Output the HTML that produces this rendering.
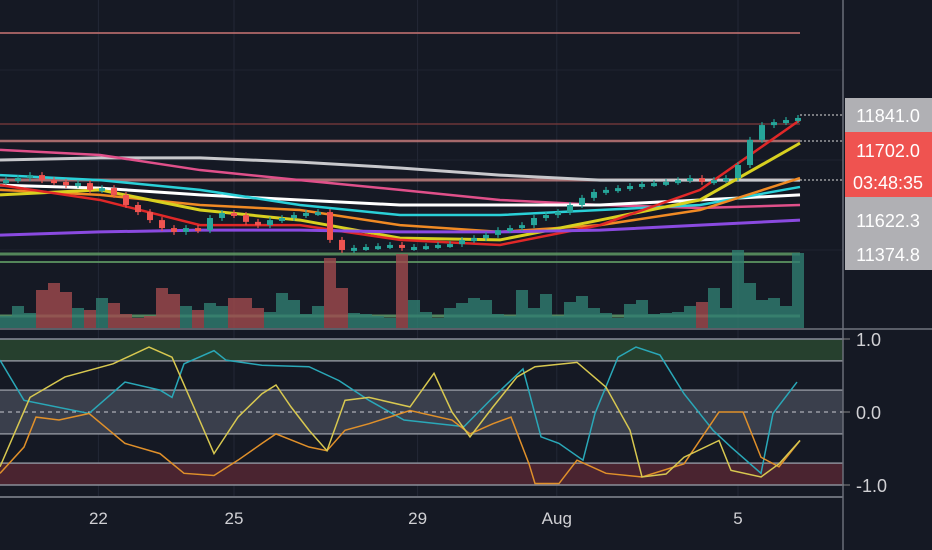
<!DOCTYPE html>
<html><head><meta charset="utf-8"><style>
body{margin:0;background:#151924;overflow:hidden}
svg{display:block;font-family:"Liberation Sans",sans-serif}
</style></head><body>
<svg id="chart" width="932" height="550">
<rect width="932" height="550" fill="#151924"/>
<g id="grid"></g>
<g id="levels"></g>
<g id="vol"></g>
<g id="mas"></g>
<g id="candles"></g>
<g id="osc"></g>
<g id="axes"></g>
</svg>
<script>
const closes=[11621,11628,11638,11621,11615,11604,11611,11588,11594,11571,11537,11513,11486,11459,11446,11459,11452,11493,11510,11503,11480,11469,11486,11493,11503,11510,11513,11419,11385,11392,11395,11398,11402,11392,11395,11398,11402,11405,11419,11425,11436,11452,11459,11469,11493,11503,11513,11537,11561,11581,11588,11594,11601,11608,11611,11615,11621,11628,11615,11621,11628,11672,11757,11807,11817,11824,11831];
const volumes=[12,22,15,38,45,36,20,18,30,25,14,10,12,40,34,22,18,25,22,30,30,20,16,35,28,14,22,70,40,15,14,12,10,74,28,16,10,20,25,30,28,14,12,38,20,34,12,26,32,20,15,10,24,28,14,15,16,22,26,40,20,78,45,28,30,22,75];
const maSilver=[11689,11696,11696,11682,11662,11638,11621,11621,11621];
const maPink=[11723,11706,11655,11621,11588,11554,11537,11527,11537];
const maWhite=[11604,11594,11571,11554,11537,11537,11537,11554,11571];
const maCyan=[11638,11621,11588,11537,11503,11503,11520,11537,11598];
const maOrange=[11588,11571,11537,11520,11469,11446,11469,11520,11628];
const maYellow=[11571,11588,11520,11486,11425,11419,11486,11554,11746];
const maRed=[11604,11554,11469,11469,11419,11402,11469,11588,11824];
const maPurple=[11435,11446,11452,11452,11446,11446,11452,11469,11486];
const oscYellowT=[0,30,65,113,149,172,196,214,238,262,276,291,309,327,345,369,410,434,452,470,493,517,535,577,606,630,642,666,684,719,731,761,779,800];
const oscYellow=[-0.75,0.2,0.48,0.66,0.89,0.75,0,-0.57,-0.07,0.25,0.37,0.07,-0.25,-0.53,0.16,0.2,0.07,0.53,0,-0.34,0.07,0.48,0.62,0.68,0.34,-0.25,-0.89,-0.85,-0.62,-0.39,-0.8,-0.89,-0.71,-0.39];
const oscCyanT=[0,24,89,125,160,172,184,214,226,262,309,339,369,404,464,493,523,541,559,583,595,618,636,660,684,713,731,761,773,797];
const oscCyan=[0.71,0.16,-0.02,0.41,0.3,0.2,0.66,0.84,0.71,0.64,0.62,0.43,0.16,-0.11,-0.2,0.2,0.59,-0.34,-0.43,-0.66,-0.02,0.75,0.89,0.78,0.25,-0.25,-0.48,-0.84,-0.02,0.41];
const oscOrangeT=[0,24,36,59,89,125,160,184,214,238,262,276,309,327,345,369,410,452,470,493,511,529,535,559,577,606,642,684,719,743,761,779,800];
const oscOrange=[-0.84,-0.48,-0.07,-0.11,-0.02,-0.43,-0.57,-0.84,-0.87,-0.66,-0.43,-0.3,-0.48,-0.53,-0.25,-0.16,0.02,-0.11,-0.3,-0.16,-0.07,-0.71,-0.98,-0.98,-0.66,-0.84,-0.89,-0.71,0,0,-0.62,-0.75,-0.39];
const dateLabels=["22","25","29","Aug","5"];
const dateBars=[7.7,19,34.3,45.9,61];
const priceLabels=["11841.0","11702.0","03:48:35","11622.3","11374.8"];
const oscTicks=[1,0,-1];
const oscTickLabels=["1.0","0.0","-1.0"];

const NS="http://www.w3.org/2000/svg";
function mk(tag,attrs,parent){const e=document.createElementNS(NS,tag);for(const k in attrs)e.setAttribute(k,attrs[k]);parent.appendChild(e);return e;}
const py=p=>115+(11841-p)*0.296;
const bx=i=>6+12*i;
const oy=v=>412-v*73;
const G=id=>document.getElementById(id);

dateBars.forEach(b=>{const l=mk('line',{x1:bx(b),x2:bx(b),y1:0,y2:497,stroke:'#232836','stroke-width':1},G('grid'));

});
[70,160,250].forEach(y=>{const l=mk('line',{x1:0,x2:843,y1:y,y2:y,stroke:'#1f2430'},G('grid'));

});

[[33,'#b56b6b',2],[124,'#7a3c3c',1.5],[141,'#c07878',2.5],[180,'#c08080',3],[254,'#5f9a64',3],[262,'#5f9a64',2],[316,'#5f9a6a',3]].forEach(a=>{
const l=mk('line',{x1:0,x2:800,y1:a[0],y2:a[0],stroke:a[1],'stroke-width':a[2],opacity:0.85},G('levels'));

});

volumes.forEach((v,i)=>{const up=i===0?true:closes[i]>=closes[i-1];
const r=mk('rect',{x:bx(i)-6,y:328-v,width:12,height:v,fill:up?'#2f7d70':'#a04a4e',opacity:0.8},G('vol'));

});

[[maSilver,'#c8c8cc',3],[maPink,'#e0508a',2.5],[maWhite,'#ffffff',3],[maCyan,'#2ad0d8',2.5],[maOrange,'#f08a24',2.5],[maYellow,'#d8d020',3],[maRed,'#e02828',2.5],[maPurple,'#8a4ae0',3]].forEach(m=>{
const pts=m[0].map((p,i)=>(i*100)+','+py(p)).join(' ');
const l=mk('polyline',{points:pts,fill:'none',stroke:m[1],'stroke-width':m[2]},G('mas'));

});

closes.forEach((c,i)=>{const o=i===0?c-5:closes[i-1];const up=c>=o;const col=up?'#26a69a':'#ef5350';
const hi=Math.max(o,c)+10,lo=Math.min(o,c)-10;
const g=mk('g',{},G('candles'));


mk('line',{x1:bx(i),x2:bx(i),y1:py(hi),y2:py(lo),stroke:col,'stroke-width':1.2},g);
const t=py(Math.max(o,c)),b=py(Math.min(o,c));
mk('rect',{x:bx(i)-3,y:t,width:6,height:Math.max(3,b-t),fill:col},g);});

const og=G('osc');
[[1,0.7,'#26402e'],[0.3,-0.3,'#3a3f4c'],[-0.7,-1,'#4a2430']].forEach(b=>{
const r=mk('rect',{x:0,y:oy(b[0]),width:843,height:oy(b[1])-oy(b[0]),fill:b[2]},og);

});
[1,0.7,0.3,-0.3,-0.7,-1].forEach(v=>{const l=mk('line',{x1:0,x2:843,y1:oy(v),y2:oy(v),stroke:'#8a8e98','stroke-width':1.5},og);

});
const zl=mk('line',{x1:0,x2:843,y1:oy(0),y2:oy(0),stroke:'#c8c8d0','stroke-dasharray':'4 4'},og);


[[oscCyanT,oscCyan,'#2aa8b8'],[oscOrangeT,oscOrange,'#e0902a'],[oscYellowT,oscYellow,'#d8c850']].forEach(s=>{
const pts=s[1].map((v,i)=>s[0][i]+','+oy(v)).join(' ');
const l=mk('polyline',{points:pts,fill:'none',stroke:s[2],'stroke-width':1.5},og);

});

const ax=G('axes');
mk('line',{x1:0,x2:932,y1:329,y2:329,stroke:'#5a5e68','stroke-width':2},ax);
mk('line',{x1:0,x2:843,y1:497,y2:497,stroke:'#6a6e78','stroke-width':2},ax);
mk('line',{x1:843,x2:843,y1:0,y2:550,stroke:'#6a6e78','stroke-width':1.5},ax);
const boxes=[[98,132,'#b0b0b4','#fff'],[132,166,'#ef5350','#fff'],[166,197,'#ef5350','#fff'],[197,238,'#b0b0b4','#fff'],[238,270,'#b0b0b4','#fff']];
const ly=[115,150,182,220,254];
priceLabels.forEach((t,i)=>{const b=boxes[i];
const r=mk('rect',{x:845,y:b[0],width:87,height:b[1]-b[0],fill:b[2]},ax);


const tx=mk('text',{x:888,y:ly[i]+7,'text-anchor':'middle','font-size':18,fill:b[3]},ax);
tx.textContent=t;

});
[115,141,180].forEach(y=>{const l=mk('line',{x1:800,x2:843,y1:y,y2:y,stroke:'#ddd','stroke-dasharray':'2 2'},ax);

});
oscTicks.forEach((v,i)=>{mk('line',{x1:843,x2:850,y1:oy(v),y2:oy(v),stroke:'#888'},ax);
const tx=mk('text',{x:856,y:oy(v)+7,'font-size':18,fill:'#d0d0d4'},ax);
tx.textContent=oscTickLabels[i];

});
dateLabels.forEach((t,i)=>{const tx=mk('text',{x:bx(dateBars[i]),y:524,'text-anchor':'middle','font-size':17,fill:'#d0d0d4'},ax);
tx.textContent=t;

});
</script>
</body></html>
